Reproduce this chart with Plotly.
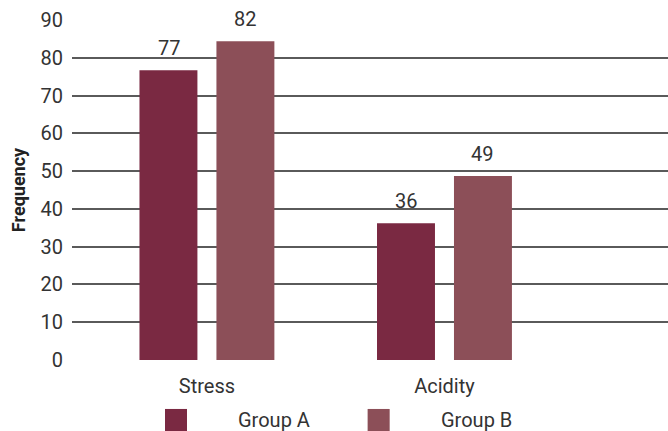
import plotly.graph_objects as go

categories = ["Stress", "Acidity"]
series_names = ["Group A", "Group B"]
values_a = [76.7, 36.2]
values_b = [84.4, 48.7]
labels_a = ["77", "36"]
labels_b = ["82", "49"]
y_ticks = [0, 10, 20, 30, 40, 50, 60, 70, 80, 90]
colors = ["#7A2942", "#8C4F58"]

FONT = "Roboto"
TXT = "#333333"

fig = go.Figure()
shifts = [-38, 38]
for k, (name, vals, labs, col) in enumerate(zip(series_names, [values_a, values_b], [labels_a, labels_b], colors)):
    fig.add_trace(go.Bar(
        x=categories, y=vals, name=name, marker_color=col, marker_line_width=0,
        showlegend=False,
    ))
    for cat, v, lab in zip(categories, vals, labs):
        fig.add_annotation(x=cat, y=v, xref="x", yref="y", text=lab, showarrow=False,
                           xshift=shifts[k], yshift=8, yanchor="bottom",
                           font=dict(family=FONT, size=20, color=TXT))

# custom legend (square swatches + labels) below the axis
legend_x = [0.156, 0.496]
for i, (name, col) in enumerate(zip(series_names, colors)):
    x0 = legend_x[i]
    fig.add_shape(type="rect", xref="paper", yref="paper",
                  x0=x0, x1=x0 + 0.037, y0=-0.209, y1=-0.144,
                  fillcolor=col, line_width=0)
    fig.add_annotation(xref="paper", yref="paper", x=x0 + 0.12, y=-0.176,
                       text=name, showarrow=False, xanchor="left", yanchor="middle",
                       font=dict(family=FONT, size=20, color=TXT))

fig.update_layout(
    width=668, height=431,
    margin=dict(l=72, r=0, t=20, b=71),
    paper_bgcolor="white", plot_bgcolor="white",
    barmode="group", bargap=0.352, bargroupgap=0.247,
    font=dict(family=FONT, size=20, color=TXT),
    xaxis=dict(type="category", range=[-0.568, 1.941], showgrid=False,
               showline=False, zeroline=False, ticks="",
               tickfont=dict(family=FONT, size=20, color=TXT),
               ticklabelstandoff=12),
    yaxis=dict(range=[0, 90], tickvals=y_ticks, showgrid=True,
               gridcolor="#5a5a5a", gridwidth=1.6, zeroline=False,
               showline=False, ticks="",
               tickfont=dict(family=FONT, size=20, color=TXT),
               ticklabelstandoff=8,
               title=dict(text="<b>Frequency</b>", font=dict(family=FONT, size=18, color="#222"),
                          standoff=10)),
)

fig.write_html("out.html")
